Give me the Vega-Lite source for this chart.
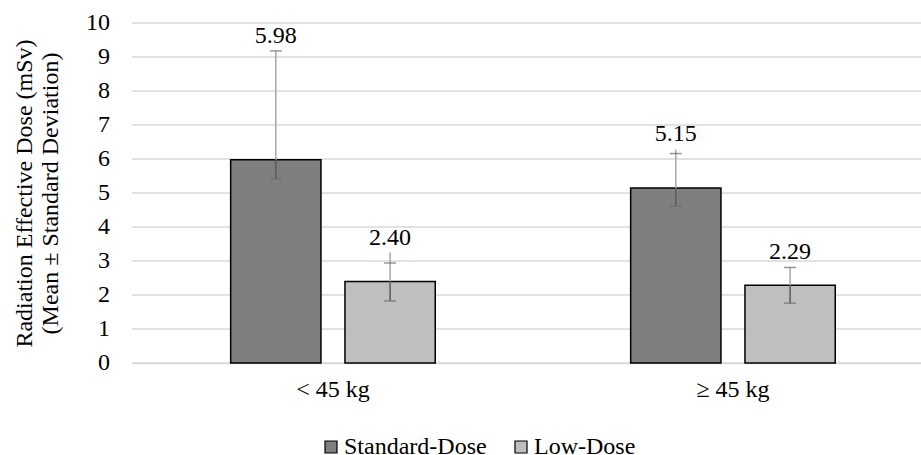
{
  "$schema": "https://vega.github.io/schema/vega-lite/v6.json",
  "width": 789,
  "height": 340,
  "autosize": {"type": "none"},
  "padding": {"left": 132, "top": 23, "right": 0, "bottom": 92},
  "config": {
    "font": "Liberation Serif",
    "view": {"stroke": null},
    "axis": {"labelFont": "Liberation Serif", "titleFont": "Liberation Serif", "labelColor": "#000000", "titleColor": "#000000"}
  },
  "datasets": {
    "bars": [
      {"group": "< 45 kg", "dose": "Standard-Dose", "mean": 5.98, "lo": 5.42, "hi": 9.18, "top": 9.18},
      {"group": "< 45 kg", "dose": "Low-Dose", "mean": 2.40, "lo": 1.82, "hi": 2.94, "top": 3.25},
      {"group": "≥ 45 kg", "dose": "Standard-Dose", "mean": 5.15, "lo": 4.61, "hi": 6.16, "top": 6.28},
      {"group": "≥ 45 kg", "dose": "Low-Dose", "mean": 2.29, "lo": 1.76, "hi": 2.81, "top": 2.81}
    ],
    "ticks": [
      {"v": 0}, {"v": 1}, {"v": 2}, {"v": 3}, {"v": 4}, {"v": 5},
      {"v": 6}, {"v": 7}, {"v": 8}, {"v": 9}, {"v": 10}
    ]
  },
  "layer": [
    {
      "data": {"name": "ticks"},
      "mark": {"type": "rule", "color": "#d9d9d9", "strokeWidth": 1.3},
      "encoding": {
        "y": {
          "field": "v", "type": "quantitative",
          "scale": {"domain": [0, 10], "nice": false},
          "axis": {
            "labels": false, "grid": false, "domain": false, "ticks": false,
            "title": ["Radiation Effective Dose (mSv)", "(Mean ± Standard Deviation)"],
            "titleFontSize": 24, "titleFontWeight": "normal", "titleLineHeight": 26,
            "titleAngle": -90, "titleBaseline": "alphabetic", "titleAlign": "center",
            "titleX": -101, "titleY": 170
          }
        }
      }
    },
    {
      "data": {"name": "ticks"},
      "mark": {"type": "text", "fontSize": 24, "font": "Liberation Serif", "color": "#000000", "align": "right", "baseline": "middle", "dx": -22},
      "encoding": {
        "x": {"value": 0},
        "y": {"field": "v", "type": "quantitative"},
        "text": {"field": "v", "type": "quantitative", "format": "d"}
      }
    },
    {
      "data": {"name": "bars"},
      "encoding": {
        "x": {
          "field": "group", "type": "nominal", "sort": ["< 45 kg", "≥ 45 kg"],
          "scale": {"paddingInner": 0.4885, "paddingOuter": 0.2305, "align": 0.535, "round": false},
          "axis": {"title": null, "labelAngle": 0, "labelFontSize": 24, "ticks": false, "tickSize": 0, "labelPadding": 14, "domainColor": "#d9d9d9", "domainWidth": 1.5}
        },
        "xOffset": {
          "field": "dose", "type": "nominal", "sort": ["Standard-Dose", "Low-Dose"],
          "scale": {"paddingInner": 0.21, "paddingOuter": 0, "round": false}
        }
      },
      "layer": [
        {
          "mark": {"type": "bar", "stroke": "#000000", "strokeWidth": 1.5},
          "encoding": {
            "y": {"field": "mean", "type": "quantitative"},
            "color": {
              "field": "dose", "type": "nominal", "sort": ["Standard-Dose", "Low-Dose"],
              "scale": {"domain": ["Standard-Dose", "Low-Dose"], "range": ["#7f7f7f", "#bfbfbf"]},
              "legend": {
                "title": null, "orient": "none", "direction": "horizontal", "legendX": 187, "legendY": 412,
                "labelFontSize": 24, "labelFont": "Liberation Serif", "labelColor": "#000000", "labelLimit": 400,
                "symbolType": "square", "symbolSize": 144, "symbolStrokeColor": "#000000", "symbolStrokeWidth": 1.2,
                "labelOffset": 1, "columnPadding": 22
              }
            }
          }
        },
        {
          "mark": {"type": "rule", "color": "#595959", "strokeWidth": 1.5},
          "encoding": {
            "y": {"field": "lo", "type": "quantitative"},
            "y2": {"field": "mean"}
          }
        },
        {
          "mark": {"type": "rule", "color": "#a6a6a6", "strokeWidth": 1.5},
          "encoding": {
            "y": {"field": "mean", "type": "quantitative"},
            "y2": {"field": "top"}
          }
        },
        {
          "mark": {"type": "tick", "color": "#6b6b6b", "size": 12, "thickness": 1.5, "orient": "horizontal"},
          "encoding": {
            "y": {"field": "lo", "type": "quantitative"}
          }
        },
        {
          "mark": {"type": "tick", "color": "#6b6b6b", "size": 12, "thickness": 1.5, "orient": "horizontal"},
          "encoding": {
            "y": {"field": "hi", "type": "quantitative"}
          }
        },
        {
          "mark": {"type": "text", "fontSize": 24, "font": "Liberation Serif", "color": "#000000", "dy": -8, "baseline": "alphabetic", "align": "center"},
          "encoding": {
            "y": {"field": "top", "type": "quantitative"},
            "text": {"field": "mean", "type": "quantitative", "format": ".2f"}
          }
        }
      ]
    }
  ]
}
